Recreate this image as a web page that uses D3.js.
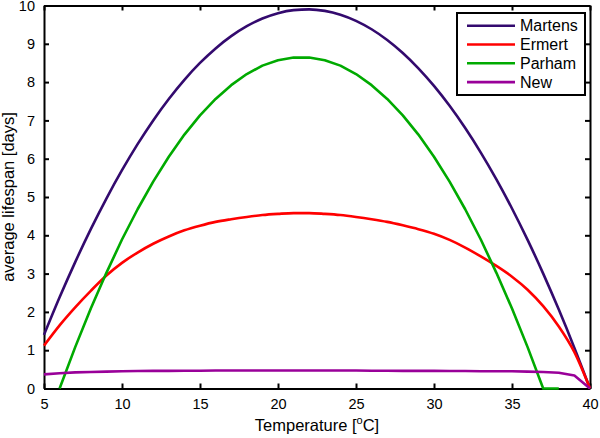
<!DOCTYPE html>
<html>
<head>
<meta charset="utf-8">
<script src="https://cdn.jsdelivr.net/npm/d3@7"></script>
<style>
  body { margin: 0; background: #fff; }
  text { font-family: "Liberation Sans", Arial, sans-serif; }
</style>
</head>
<body>
<svg id="chart" width="600" height="438"></svg>
<script>
// temperature grid (degrees C)
var temps = d3.range(5, 41);
var tempsParham = d3.range(6, 39);

// average lifespan [days]
var martens = [1.40, 2.38, 3.30, 4.16, 4.96, 5.70, 6.38, 7.00, 7.56, 8.06,
  8.50, 8.88, 9.20, 9.46, 9.66, 9.80, 9.88, 9.90, 9.86, 9.76,
  9.60, 9.38, 9.10, 8.76, 8.36, 7.90, 7.38, 6.80, 6.16, 5.46,
  4.70, 3.88, 3.00, 2.06, 1.06, 0.00];
var ermert = [1.12, 1.65, 2.12, 2.55, 2.95, 3.28, 3.55, 3.78, 3.97, 4.13,
  4.25, 4.35, 4.42, 4.48, 4.53, 4.56, 4.58, 4.58, 4.56, 4.53,
  4.48, 4.42, 4.35, 4.26, 4.16, 4.04, 3.88, 3.68, 3.45, 3.20,
  2.92, 2.58, 2.15, 1.62, 0.95, 0.00];
var parham = [0.00, 1.08, 2.09, 3.02, 3.89, 4.68, 5.40, 6.05, 6.63, 7.13,
  7.56, 7.92, 8.21, 8.43, 8.57, 8.64, 8.64, 8.57, 8.43, 8.21,
  7.92, 7.56, 7.13, 6.63, 6.05, 5.40, 4.68, 3.89, 3.02, 2.09,
  1.08, 0.00, 0.00];
var newModel = [0.37, 0.40, 0.42, 0.43, 0.44, 0.45, 0.455, 0.46, 0.46, 0.465,
  0.465, 0.47, 0.47, 0.47, 0.47, 0.47, 0.47, 0.47, 0.47, 0.47,
  0.47, 0.465, 0.465, 0.46, 0.46, 0.46, 0.455, 0.455, 0.45, 0.45,
  0.45, 0.44, 0.43, 0.41, 0.34, 0.00];

var xTicks = [5, 10, 15, 20, 25, 30, 35, 40];
var yTicks = [0, 1, 2, 3, 4, 5, 6, 7, 8, 9, 10];

var seriesNames = ["Martens", "Ermert", "Parham", "New"];
var seriesColors = ["#330a6e", "#ff0000", "#00aa00", "#990099"];

var margin = {top: 5.5, right: 10, bottom: 49.5, left: 44},
    width = 600 - margin.left - margin.right,
    height = 438 - margin.top - margin.bottom;

var svg = d3.select("#chart");
var g = svg.append("g")
    .attr("transform", "translate(" + margin.left + "," + margin.top + ")");

var x = d3.scaleLinear().domain([5, 40]).range([0, width]);
var y = d3.scaleLinear().domain([0, 10]).range([height, 0]);

// frame with inward ticks on all four sides
var tickLen = 5;
g.append("g").attr("transform", "translate(0," + height + ")")
  .call(d3.axisBottom(x).tickValues(xTicks).tickSizeInner(-tickLen).tickSizeOuter(0).tickPadding(10))
  .call(function(a){ a.selectAll("text").attr("dy", "0.71em"); });
g.append("g")
  .call(d3.axisTop(x).tickValues(xTicks).tickSizeInner(-tickLen).tickSizeOuter(0).tickFormat(""));
g.append("g")
  .call(d3.axisLeft(y).tickValues(yTicks).tickSizeInner(-tickLen).tickSizeOuter(0).tickPadding(9));
g.append("g").attr("transform", "translate(" + width + ",0)")
  .call(d3.axisRight(y).tickValues(yTicks).tickSizeInner(-tickLen).tickSizeOuter(0).tickFormat(""));

g.selectAll(".domain").attr("stroke", "#000").attr("stroke-width", 2);
g.selectAll(".tick line").attr("stroke", "#000").attr("stroke-width", 2);
g.selectAll(".tick text").style("font-size", "14.5px").attr("fill", "#000")
  .style("font-family", "'Liberation Sans', Arial, sans-serif");

var smooth = d3.line()
  .curve(d3.curveMonotoneX)
  .x(function(d){ return x(d[0]); })
  .y(function(d){ return y(d[1]); });
var straight = d3.line()
  .x(function(d){ return x(d[0]); })
  .y(function(d){ return y(d[1]); });

var series = [
  {pts: d3.zip(temps, martens), gen: smooth},
  {pts: d3.zip(temps, ermert), gen: smooth},
  {pts: d3.zip(tempsParham, parham), gen: straight},
  {pts: d3.zip(temps, newModel), gen: straight}
];

g.selectAll(".series")
  .data(series)
  .enter()
  .append("path")
  .attr("d", function(d){ return d.gen(d.pts); })
  .attr("fill", "none")
  .attr("stroke", function(d, i){ return seriesColors[i]; })
  .attr("stroke-width", 2.6)
  .attr("stroke-linejoin", "round");

// legend
var legend = svg.append("g").attr("transform", "translate(457,13)");
legend.append("rect")
  .attr("width", 128).attr("height", 82)
  .attr("fill", "#fff").attr("stroke", "#000").attr("stroke-width", 2);

var rows = legend.selectAll(".row")
  .data(seriesNames)
  .enter()
  .append("g")
  .attr("transform", function(d, i){ return "translate(0," + (12.7 + i * 18.8) + ")"; });
rows.append("line")
  .attr("x1", 10).attr("x2", 58)
  .attr("stroke", function(d, i){ return seriesColors[i]; })
  .attr("stroke-width", 2.6);
rows.append("text")
  .attr("x", 63).attr("dy", "0.36em")
  .style("font-size", "16px")
  .text(function(d){ return d; });

// axis labels
var xl = svg.append("text")
  .attr("x", margin.left + width / 2).attr("y", 431)
  .attr("text-anchor", "middle")
  .style("font-size", "16.5px");
xl.append("tspan").text("Temperature [");
xl.append("tspan").attr("dy", -7).style("font-size", "11px").text("o");
xl.append("tspan").attr("dy", 7).text("C]");

svg.append("text")
  .attr("transform", "translate(13.5," + (margin.top + height / 2) + ") rotate(-90)")
  .attr("text-anchor", "middle")
  .style("font-size", "16.5px")
  .text("average lifespan [days]");
</script>
</body>
</html>
